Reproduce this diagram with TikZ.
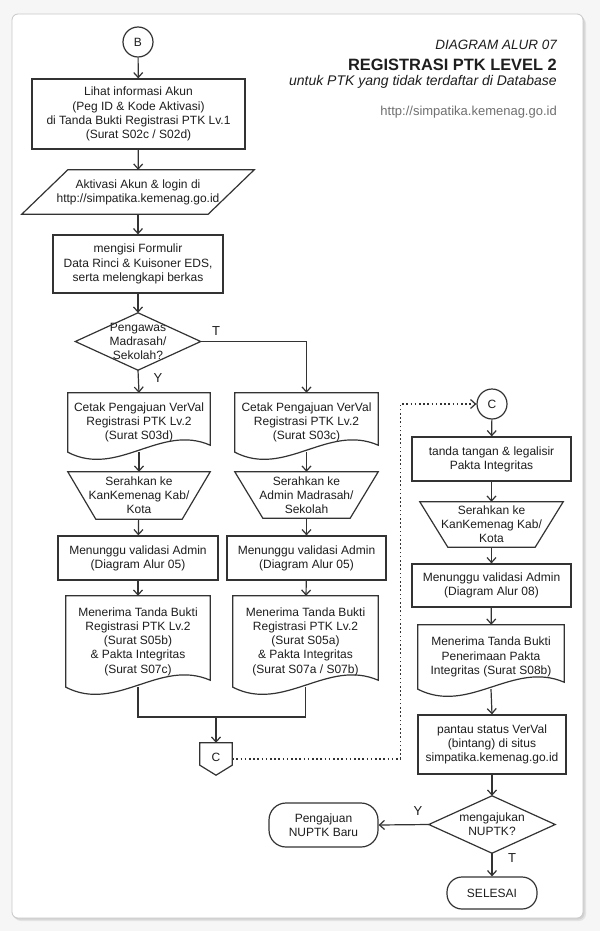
\documentclass[tikz,border=0pt]{standalone}
\usepackage{fontspec}
\setmainfont{Liberation Sans}
\usetikzlibrary{arrows.meta,calc}
\definecolor{lc}{HTML}{333333}
\definecolor{tc}{HTML}{1E1E1E}
\definecolor{urlc}{HTML}{707070}
\definecolor{bgc}{HTML}{F6F6F6}
\definecolor{framec}{HTML}{C8C8C8}
\tikzset{
  ln/.style={draw=lc, line width=1.2pt},
  txt/.style={font=\fontsize{12}{14.2}\selectfont, align=center, text=tc, inner sep=0pt},
  box/.style={txt, rectangle, draw=lc, line width=1.2pt},
  plain/.style={txt, rectangle},
  circ/.style={txt, circle, draw=lc, line width=1.2pt, minimum size=30pt},
  term/.style={txt, rectangle, rounded corners=17pt, draw=lc, line width=1.2pt},
  arr/.style={ln, -{Straight Barb[length=5pt,width=9pt,line width=1.2pt]}},
  dotarr/.style={draw=lc, line width=1.4pt, dash pattern=on 1.6pt off 2.6pt, -{Straight Barb[length=5pt,width=9pt,line width=1.2pt]}},
  yt/.style={font=\fontsize{13}{15}\selectfont, text=tc, inner sep=0pt},
  head/.style={anchor=base east, inner sep=0pt, text=tc},
}
\newcommand\docshape[1]{%
  \draw[ln] let \p1=(#1.south west), \p2=(#1.south east), \p3=(#1.north west), \p4=(#1.north east), \n1={\x2-\x1} in
    (\p3) -- (\p4) -- (\x2,\y2+7pt) .. controls (\x2-0.35*\n1,\y2+29pt) and (\x1+0.35*\n1,\y1-26pt) .. (\p1) -- cycle;}
\newcommand\trapshape[2]{%
  \draw[ln] (#1.north west) -- (#1.north east) -- ($(#1.south east)+(-#2,0)$) -- ($(#1.south west)+(#2,0)$) -- cycle;}
\newcommand\diashape[1]{%
  \draw[ln] (#1.north) -- (#1.east) -- (#1.south) -- (#1.west) -- cycle;}
\begin{document}
\begin{tikzpicture}[x=1pt,y=-1pt]
\useasboundingbox (0,0) rectangle (600,931);
\fill[bgc] (0,0) rectangle (600,931);
% card with soft shadow
\fill[gray!22, rounded corners=7pt] (14,17) rectangle (586,921);
\fill[gray!35, rounded corners=6pt] (13,15.5) rectangle (584.5,919.5);
\filldraw[fill=white, draw=framec, line width=0.8pt, rounded corners=6pt] (12,14) rectangle (583,918);

% header
\node[head, font=\itshape\fontsize{13.5}{16}\selectfont] (h1) at (557,50) {DIAGRAM ALUR 07};
\node[head, font=\bfseries\fontsize{16.4}{19}\selectfont] (h2) at (557,71) {REGISTRASI PTK LEVEL 2};
\node[head, font=\itshape\fontsize{14}{16}\selectfont] (h3) at (557,86) {untuk PTK yang tidak terdaftar di Database};
\node[head, font=\fontsize{13}{15}\selectfont, text=urlc] (h4) at (557,116) {http://simpatika.kemenag.go.id};

% left main column
\node[circ] (B) at (138,42) {B};
\node[box, minimum width=213, minimum height=70] (b1) at (138.5,114) {Lihat informasi Akun\\(Peg ID \& Kode Aktivasi)\\di Tanda Bukti Registrasi PTK Lv.1\\(Surat S02c / S02d)};
\node[plain, minimum width=186, minimum height=44] (p2) at (138,192) {Aktivasi Akun \& login di\\http://simpatika.kemenag.go.id};
\draw[ln] ($(p2.south west)+(-23,0)$) -- ($(p2.north west)+(23,0)$) -- ($(p2.north east)+(23,0)$) -- ($(p2.south east)+(-23,0)$) -- cycle;
\node[box, minimum width=170, minimum height=58] (b3) at (138,264) {mengisi Formulir\\Data Rinci \& Kuisoner EDS,\\serta melengkapi berkas};
\node[plain, minimum width=125, minimum height=57] (d1) at (138,341.5) {Pengawas\\Madrasah/\\Sekolah?};
\diashape{d1}

% left branch
\node[plain, minimum width=142, minimum height=59] (l1) at (139,422.5) {Cetak Pengajuan VerVal\\Registrasi PTK Lv.2\\(Surat S03d)};
\docshape{l1}
\node[plain, minimum width=142, minimum height=47] (l2) at (139,495.5) {Serahkan ke\\KanKemenag Kab/\\Kota};
\trapshape{l2}{28}
\node[box, minimum width=160, minimum height=44] (l3) at (138,558) {Menunggu validasi Admin\\(Diagram Alur 05)};
\node[plain, minimum width=144, minimum height=91] (l4) at (138,641.5) {Menerima Tanda Bukti\\Registrasi PTK Lv.2\\(Surat S05b)\\\& Pakta Integritas\\(Surat S07c)};
\docshape{l4}

% right branch
\node[plain, minimum width=143, minimum height=59] (r1) at (306.5,422.5) {Cetak Pengajuan VerVal\\Registrasi PTK Lv.2\\(Surat S03c)};
\docshape{r1}
\node[plain, minimum width=143, minimum height=46] (r2) at (306.5,495) {Serahkan ke\\Admin Madrasah/\\Sekolah};
\trapshape{r2}{28}
\node[box, minimum width=159, minimum height=44] (r3) at (306.5,558) {Menunggu validasi Admin\\(Diagram Alur 05)};
\node[plain, minimum width=145, minimum height=91] (r4) at (305.5,641.5) {Menerima Tanda Bukti\\Registrasi PTK Lv.2\\(Surat S05a)\\\& Pakta Integritas\\(Surat S07a / S07b)};
\docshape{r4}

% off-page connector
\coordinate (mc) at (216,717);
\node[plain, minimum width=32, minimum height=32] (C1) at (216,759) {\raisebox{4pt}{C}};
\draw[ln] (C1.north west) -- (C1.north east) -- ($(C1.south east)+(0,-10)$) -- (C1.south) -- ($(C1.south west)+(0,-10)$) -- cycle;

% right column
\node[circ] (C2) at (492,404) {C};
\node[box, minimum width=159, minimum height=44] (t1) at (491.5,459) {tanda tangan \& legalisir\\Pakta Integritas};
\node[plain, minimum width=143, minimum height=45] (t2) at (491.5,524.5) {Serahkan ke\\KanKemenag Kab/\\Kota};
\trapshape{t2}{28}
\node[box, minimum width=159, minimum height=43] (t3) at (491.5,585.5) {Menunggu validasi Admin\\(Diagram Alur 08)};
\node[plain, minimum width=146, minimum height=64] (t4) at (491,657) {Menerima Tanda Bukti\\Penerimaan Pakta\\Integritas (Surat S08b)};
\docshape{t4}
\node[box, minimum width=148, minimum height=59] (t5) at (492,744.5) {pantau status VerVal\\(bintang) di situs\\simpatika.kemenag.go.id};
\node[plain, minimum width=126, minimum height=57] (d2) at (492,824.5) {mengajukan\\NUPTK?};
\diashape{d2}
\node[term, minimum width=109, minimum height=44] (e1) at (323.5,825) {Pengajuan\\NUPTK Baru};
\node[term, minimum width=90, minimum height=32, rounded corners=15pt] (e2) at (492,893) {SELESAI};

% connectors
\draw[arr] (B) -- (b1);
\draw[arr] (b1) -- (p2);
\draw[arr] (p2) -- (b3);
\draw[arr] (b3) -- (d1);
\draw[arr] (d1.south) -- (l1.north);
\draw[arr] (d1.east) -| (r1.north);
\draw[arr] (l1.south) -- (l2.north);
\draw[arr] (l2) -- (l3);
\draw[arr] (l3) -- (l4);
\draw[arr] (r1.south) -- (r2.north);
\draw[arr] (r2) -- (r3);
\draw[arr] (r3) -- (r4);
\draw[ln] (l4.south) |- (mc) -| (r4.south);
\draw[arr] (mc) -- (C1.north);
\draw[dotarr] (C1.east) -- ++(168,0) |- (C2.west);
\draw[arr] (C2) -- (t1);
\draw[arr] (t1) -- (t2);
\draw[arr] (t2) -- (t3);
\draw[arr] (t3) -- (t4);
\draw[arr] (t4.south) -- (t5.north);
\draw[arr] (t5) -- (d2);
\draw[arr] (d2.west) -- (e1.east);
\draw[arr] (d2.south) -- (e2.north);

% branch labels
\node[yt] (lT1) at (216,331) {T};
\node[yt] (lY1) at (158,378) {Y};
\node[yt] (lY2) at (418,811) {Y};
\node[yt] (lT2) at (512,858) {T};
\end{tikzpicture}
\end{document}
